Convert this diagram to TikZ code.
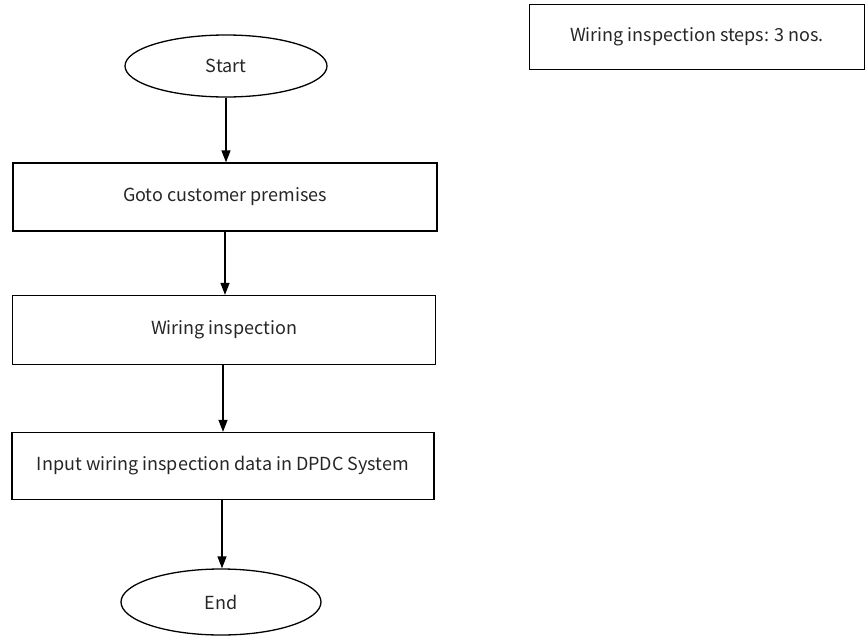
\documentclass[tikz,border=0pt]{standalone}
\usepackage{fontspec}
\newfontfamily\cjkjp{Noto Sans CJK JP}
\usetikzlibrary{shapes.geometric,arrows.meta}
\begin{document}
\begin{tikzpicture}[x=1pt,y=1pt,
  every node/.style={font=\cjkjp\fontsize{18}{21}\selectfont, text=black!85},
  term/.style={ellipse, draw, line width=1.3pt, inner sep=0pt},
  stepbox/.style={rectangle, draw, line width=1.3pt, inner sep=0pt},
  notebox/.style={rectangle, draw, line width=1pt, inner sep=0pt},
  flow/.style={line width=1.3pt, -{Triangle[width=9pt,length=12pt]}}]
\useasboundingbox (0,0) rectangle (868,-637);
\node[term, minimum width=202pt, minimum height=62pt] (start) at (226,-66) {Start};
\node[stepbox, minimum width=424pt, minimum height=68pt] (box1) at (225,-197) {Goto customer premises};
\node[stepbox, minimum width=423pt, minimum height=69pt] (box2) at (224,-330) {Wiring inspection};
\node[stepbox, minimum width=422pt, minimum height=67pt] (box3) at (223,-466) {Input wiring inspection data in DPDC System};
\node[term, minimum width=200pt, minimum height=66pt] (end) at (221,-602) {End};
\node[notebox, minimum width=335pt, minimum height=65pt] (note) at (697,-37) {Wiring inspection steps: 3 nos.};
\draw[flow] (start.south) -- (start.south |- box1.north);
\draw[flow] (box1.south) -- (box1.south |- box2.north);
\draw[flow] (box2.south -| 223,0) -- (223,0 |- box3.north);
\draw[flow] (box3.south -| 222,0) -- (222,0 |- end.north);
\end{tikzpicture}
\end{document}
